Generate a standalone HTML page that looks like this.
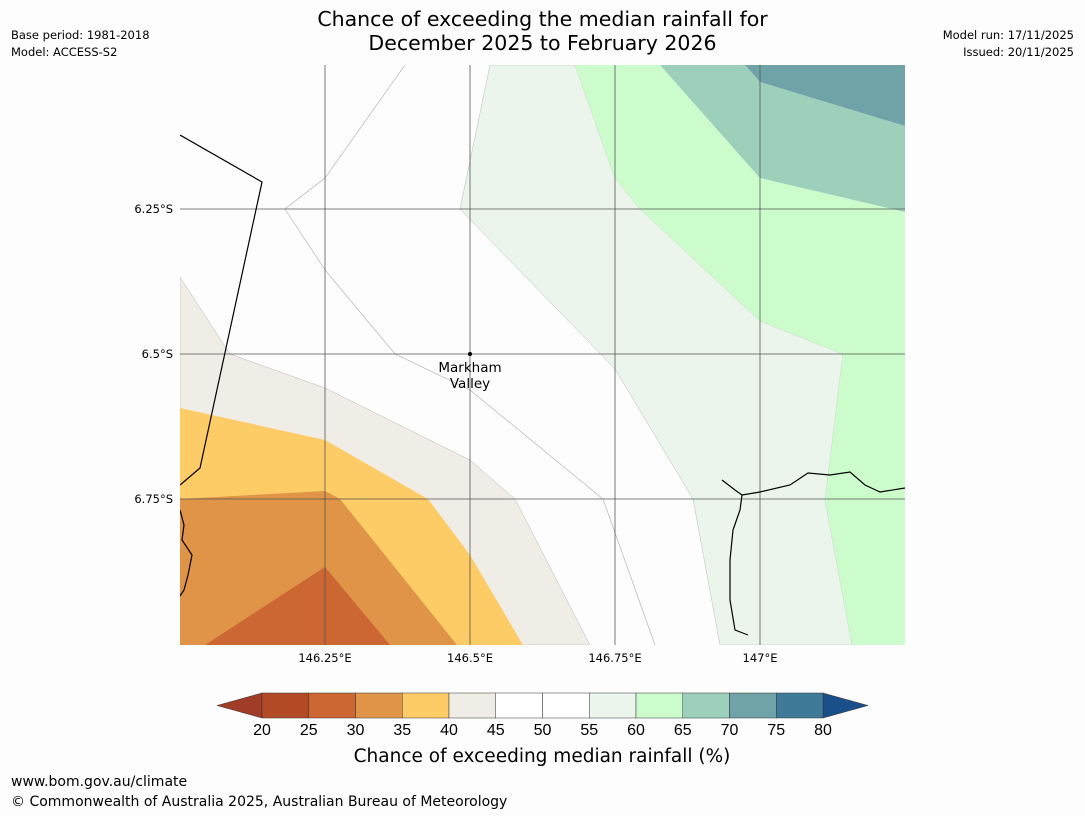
<!DOCTYPE html>
<html><head><meta charset="utf-8">
<style>
html,body{margin:0;padding:0;background:#fdfdfd;}
body{width:1085px;height:816px;position:relative;overflow:hidden;font-family:"DejaVu Sans",sans-serif;}
.t{position:absolute;color:#000;}
</style></head>
<body>
<div class="t" style="left:0;width:1085px;top:7px;text-align:center;font-size:20.5px;line-height:24px;">Chance of exceeding the median rainfall for<br>December 2025 to February 2026</div>
<div class="t" style="left:11px;top:27px;font-size:11.5px;line-height:17px;">Base period: 1981-2018<br>Model: ACCESS-S2</div>
<div class="t" style="right:11px;top:27px;font-size:11.5px;line-height:17px;text-align:right;">Model run: 17/11/2025<br>Issued: 20/11/2025</div>
<svg width="1085" height="816" style="position:absolute;left:0;top:0;font-family:'DejaVu Sans',sans-serif">
<defs><clipPath id="mc"><rect x="180" y="65" width="725" height="580"/></clipPath></defs>
<g clip-path="url(#mc)">
<rect x="180" y="65" width="725" height="580" fill="#fdfdfd"/>
<polygon fill="#ebf5eb" stroke="#aaa" stroke-width="0.4" points="490,65 575,65 615,178 640,209 760,321 843,354 825,500 852,645 720,645 693,499 615,369 460,209"/>
<polygon fill="#ccfccc" points="575,65 660,65 760,178 905,212 905,645 852,645 825,500 843,354 760,321 640,209 615,178"/>
<polygon fill="#9dd0bb" points="660,65 745,65 760,82 905,126 905,212 760,178"/>
<polygon fill="#6fa3a8" points="745,65 905,65 905,126 760,82"/>
<polygon fill="#f0ece6" stroke="#aaa" stroke-width="0.4" points="180,277 230,354 325,388 470,460 515,499 590,645 180,645"/>
<polygon fill="#fdcc66" points="180,408 325,440 428,499 470,555 523,645 180,645"/>
<polygon fill="#e09448" points="180,499 325,491 340,499 457,645 180,645"/>
<polygon fill="#cc6633" points="205,645 325,567 390,645"/>
<polyline fill="none" stroke="#aaa" stroke-width="0.6" points="285,209 325,178 405,65"/>
<polyline fill="none" stroke="#aaa" stroke-width="0.6" points="285,209 325,270 395,354 470,390 603,499 655,645"/>
<g stroke="#555" stroke-width="0.8">
<line x1="325" y1="65" x2="325" y2="645"/><line x1="470" y1="65" x2="470" y2="645"/>
<line x1="615" y1="65" x2="615" y2="645"/><line x1="760" y1="65" x2="760" y2="645"/>
<line x1="180" y1="209" x2="905" y2="209"/><line x1="180" y1="354" x2="905" y2="354"/>
<line x1="180" y1="499" x2="905" y2="499"/>
</g>
<g fill="none" stroke="#000" stroke-width="1.2">
<polyline points="180,135 262,182 200,468 180,485"/>
<polyline points="180,510 184,525 182,540 192,555 188,575 184,590 180,596"/>
<polyline points="722,480 735,490 742,495 740,510 733,530 730,560 730,600 735,630 748,635"/>
<polyline points="742,495 760,492 790,485 808,473 830,475 850,472 865,485 880,492 905,488"/>
</g>
</g>
<circle cx="470" cy="354" r="2" fill="#000"/>
<text x="470" y="372" font-size="13.5" text-anchor="middle">Markham</text>
<text x="470" y="388" font-size="13.5" text-anchor="middle">Valley</text>
<g font-size="11.5">
<text x="173" y="213" text-anchor="end">6.25°S</text>
<text x="173" y="358" text-anchor="end">6.5°S</text>
<text x="173" y="503" text-anchor="end">6.75°S</text>
<text x="325" y="662" text-anchor="middle">146.25°E</text>
<text x="470" y="662" text-anchor="middle">146.5°E</text>
<text x="615" y="662" text-anchor="middle">146.75°E</text>
<text x="760" y="662" text-anchor="middle">147°E</text>
</g>
<g id="cb"></g>
<text x="542" y="762" font-size="18.5" text-anchor="middle">Chance of exceeding median rainfall (%)</text>
</svg>
<div class="t" style="left:11px;top:774px;font-size:14px;">www.bom.gov.au/climate</div>
<div class="t" style="left:11px;top:794px;font-size:14px;">© Commonwealth of Australia 2025, Australian Bureau of Meteorology</div>
<script>
const ticks=[20,25,30,35,40,45,50,55,60,65,70,75,80];
const colors=["#b34a26","#cc6633","#e09448","#fdcc66","#f0ece6","#ffffff","#ffffff","#ebf5eb","#ccfccc","#9dd0bb","#6fa3a8","#3f7a99"];
const ns="http://www.w3.org/2000/svg",g=document.getElementById('cb');
const x0=262,x1=823,y0=693,h=25,w=(x1-x0)/colors.length;
function add(tag,attrs){const e=document.createElementNS(ns,tag);for(const k in attrs)e.setAttribute(k,attrs[k]);g.appendChild(e);return e;}
const lt=add('polygon',{points:`${x0},${y0} ${x0},${y0+h} 217,${y0+h/2}`,fill:'#a03c28',stroke:'#333','stroke-width':0.5});


const rt=add('polygon',{points:`${x1},${y0} ${x1},${y0+h} 868,${y0+h/2}`,fill:'#1a4f8a',stroke:'#333','stroke-width':0.5});


colors.forEach((c,i)=>{const r=add('rect',{x:x0+i*w,y:y0,width:w,height:h,fill:c,stroke:'#333','stroke-width':0.5});

});
ticks.forEach((t,i)=>{const tx=add('text',{x:x0+i*w,y:735,'font-size':16,'text-anchor':'middle','font-family':'Liberation Sans, sans-serif'});tx.textContent=t;

});
</script>
</body></html>
